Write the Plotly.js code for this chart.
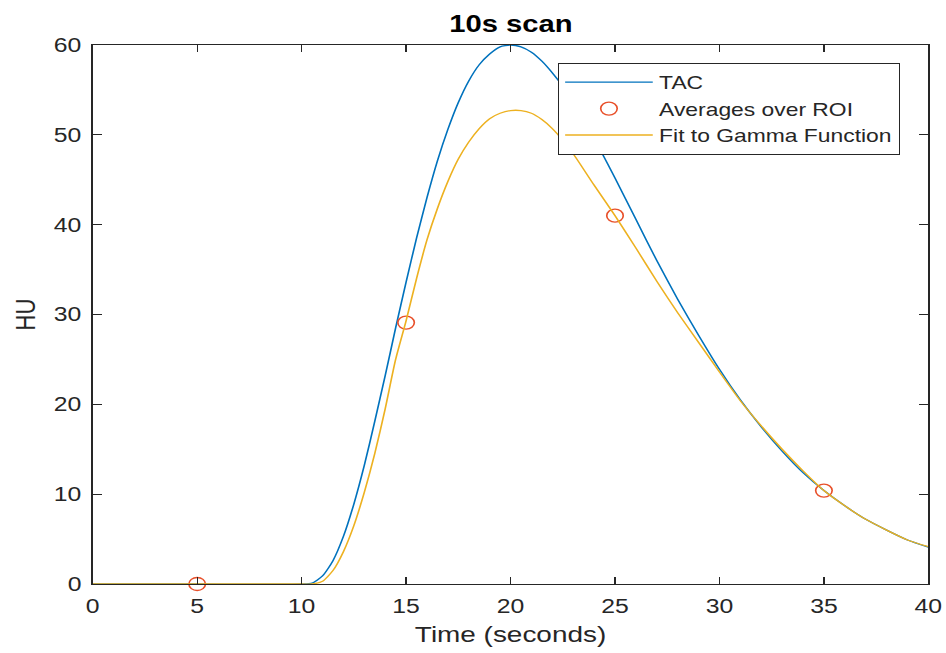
<!DOCTYPE html>
<html>
<head>
<meta charset="utf-8">
<script src="https://cdn.plot.ly/plotly-3.0.1.min.js"></script>
<style>
html,body{margin:0;padding:0;background:#fff;overflow:hidden;width:946px;height:653px;}
#chart{width:745px;height:653px;transform:scaleX(1.27);transform-origin:0 0;}
</style>
</head>
<body>
<div id="chart"></div>
<script>
// TAC curve
const tacTime = [0, 5, 10, 10.5, 11, 11.5, 12, 12.5, 13, 13.5, 14, 14.5, 15, 15.5, 16, 16.5, 17, 17.5, 18, 18.5, 19, 19.5, 20, 20.5, 21, 21.5, 22, 22.5, 23, 24, 25, 26, 27, 28, 29, 30, 31, 32, 33, 34, 35, 36, 37, 38, 39, 40];
const tacHU   = [0, 0, 0, 0.1, 0.9, 2.6, 5.3, 8.9, 13.2, 18.1, 23.2, 28.5, 33.6, 38.5, 43.0, 47.1, 50.6, 53.6, 56.0, 57.8, 59.0, 59.8, 60.0, 59.8, 59.2, 58.2, 56.9, 55.4, 53.6, 49.6, 45.2, 40.6, 36.0, 31.7, 27.7, 23.9, 20.5, 17.5, 14.8, 12.4, 10.4, 8.7, 7.2, 6.0, 4.9, 4.1];

// ROI averages
const roiTime = [5, 15, 25, 35];
const roiHU   = [0, 29.1, 41.0, 10.4];

// Gamma function fit
const fitTime = [0, 5, 10, 10.5, 11, 11.5, 12, 12.5, 13, 13.5, 14, 14.5, 15, 15.5, 16, 16.5, 17, 17.5, 18, 18.5, 19, 19.5, 20, 20.5, 21, 21.5, 22, 22.5, 23, 24, 25, 26, 27, 28, 29, 30, 31, 32, 33, 34, 35, 36, 37, 38, 39, 40];
const fitHU   = [0, 0, 0, 0, 0.3, 1.5, 3.6, 6.5, 10.2, 14.5, 19.5, 25.0, 29.3, 34.0, 38.3, 41.8, 44.8, 47.3, 49.2, 50.7, 51.8, 52.4, 52.7, 52.7, 52.4, 51.7, 50.7, 49.4, 47.9, 44.4, 41.0, 37.4, 33.7, 30.2, 26.9, 23.6, 20.4, 17.6, 15.0, 12.6, 10.4, 8.7, 7.2, 6.0, 4.9, 4.15];

const xTicks = [0, 5, 10, 15, 20, 25, 30, 35, 40];
const yTicks = [0, 10, 20, 30, 40, 50, 60];

const axisCol = '#262626';
const fam = 'Liberation Sans, Arial, sans-serif';

const traces = [
  {x: tacTime, y: tacHU, type: 'scatter', mode: 'lines', name: 'TAC',
   line: {color: '#0072BD', width: 1.3, shape: 'spline', smoothing: 0.6}},
  {x: roiTime, y: roiHU, type: 'scatter', mode: 'markers', name: 'Averages over ROI',
   marker: {symbol: 'circle-open', size: 13, color: '#E8502A', line: {width: 1.3, color: '#E8502A'}},
   cliponaxis: false},
  {x: fitTime, y: fitHU, type: 'scatter', mode: 'lines', name: 'Fit to Gamma Function',
   line: {color: '#EDB120', width: 1.3, shape: 'spline', smoothing: 0.6}}
];

const layout = {
  width: 745, height: 653,
  margin: {l: 73.2, r: 13.5, t: 45, b: 69},
  paper_bgcolor: '#fff', plot_bgcolor: '#fff',
  font: {family: fam, size: 19, color: axisCol},
  showlegend: true,
  title: {text: '<b>10s scan</b>', font: {family: fam, size: 23, color: '#000'},
          x: (73.2 + 731.5) / 2 / 745, xanchor: 'center', y: 1 - 24/653, yanchor: 'middle'},
  xaxis: {range: [0, 40], tickvals: xTicks, ticks: 'inside', ticklen: 7, tickcolor: axisCol,
          showline: true, linecolor: axisCol, linewidth: 1, mirror: 'ticks', showgrid: false, zeroline: false,
          title: {text: 'Time (seconds)', font: {family: fam, size: 22, color: axisCol}, standoff: 10},
          tickfont: {family: fam, size: 19.5, color: axisCol}, ticklabelstandoff: 5},
  yaxis: {range: [0, 60], tickvals: yTicks, ticks: 'inside', ticklen: 7, tickcolor: axisCol,
          showline: true, linecolor: axisCol, linewidth: 1, mirror: 'ticks', showgrid: false, zeroline: false,
          title: {text: 'HU', font: {family: fam, size: 22, color: axisCol}, standoff: 8},
          tickfont: {family: fam, size: 19.5, color: axisCol}, ticklabelstandoff: 4},
  legend: {x: (558 - 93) / 836, y: (584 - 63) / 539, xanchor: 'left', yanchor: 'top',
           bordercolor: '#262626', borderwidth: 1, bgcolor: '#fff',
           font: {family: fam, size: 18, color: axisCol}, itemwidth: 69}
};

Plotly.newPlot('chart', traces, layout, {displayModeBar: false, staticPlot: true});
</script>
</body>
</html>
